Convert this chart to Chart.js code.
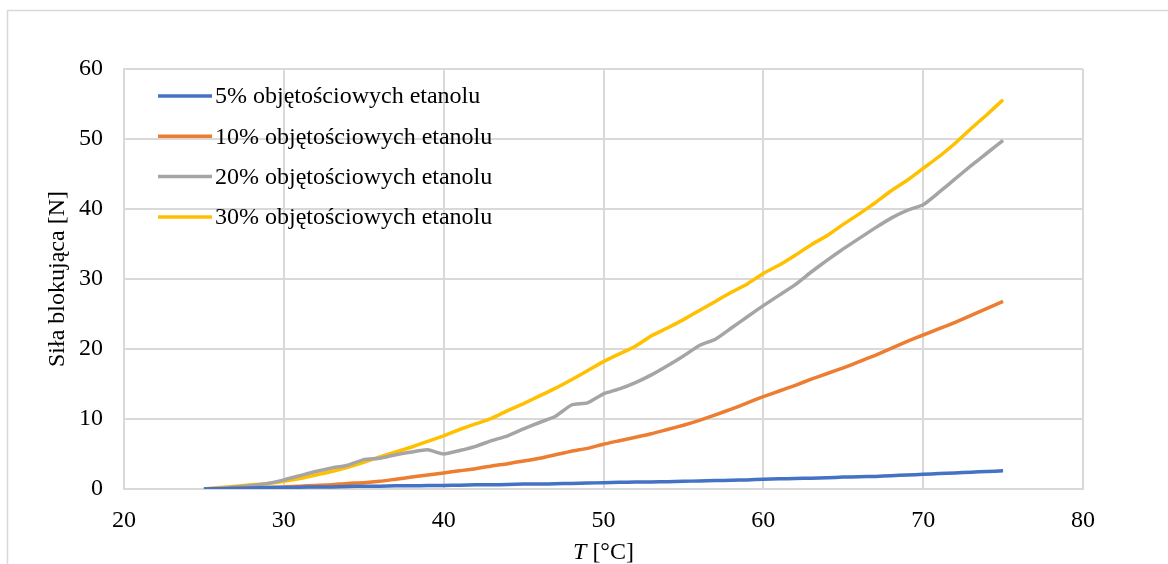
<!DOCTYPE html>
<html>
<head>
<meta charset="utf-8">
<script src="https://cdn.jsdelivr.net/npm/chart.js@4.4.1/dist/chart.umd.min.js"></script>
<style>
  html, body { margin: 0; padding: 0; background: #fff; }
  #wrap { width: 1168px; height: 564px; position: relative; }
</style>
</head>
<body>
<div id="wrap"><canvas id="c" width="1168" height="564"></canvas></div>
<script>
// Temperature [°C]
const temperature = [25,26,27,28,29,30,31,32,33,34,35,36,37,38,39,40,41,42,43,44,45,46,47,48,49,50,
  51,52,53,54,55,56,57,58,59,60,61,62,63,64,65,66,67,68,69,70,71,72,73,74,75];

// Blocking force [N] for each ethanol concentration
const force5 = [0.0,0.05,0.1,0.15,0.2,0.2,0.25,0.3,0.3,0.35,0.4,0.4,0.45,0.45,0.5,0.5,0.55,0.6,0.6,0.65,
  0.7,0.7,0.75,0.8,0.85,0.9,0.95,1.0,1.0,1.05,1.1,1.15,1.2,1.25,1.3,1.4,1.45,1.5,1.55,1.6,
  1.7,1.75,1.8,1.9,2.0,2.1,2.2,2.3,2.4,2.5,2.6];
const force10 = [0.0,0.0,0.1,0.1,0.2,0.3,0.4,0.5,0.6,0.8,0.9,1.1,1.4,1.7,2.0,2.3,2.6,2.9,3.3,3.6,
  4.0,4.4,4.9,5.4,5.8,6.4,6.9,7.4,7.9,8.5,9.1,9.8,10.6,11.4,12.3,13.2,14.0,14.8,15.7,16.5,
  17.3,18.2,19.1,20.1,21.1,22.0,22.9,23.8,24.8,25.8,26.8];
const force20 = [0.0,0.1,0.3,0.5,0.8,1.3,1.9,2.5,3.0,3.4,4.2,4.4,4.9,5.3,5.6,5.0,5.5,6.1,6.9,7.6,
  8.6,9.5,10.4,12.0,12.3,13.6,14.3,15.2,16.3,17.6,19.0,20.5,21.4,23.0,24.6,26.2,27.7,29.2,31.0,32.7,
  34.3,35.8,37.3,38.7,39.8,40.6,42.4,44.3,46.2,48.0,49.8];
const force30 = [0.0,0.2,0.4,0.6,0.8,1.1,1.5,2.0,2.5,3.1,3.8,4.6,5.3,6.0,6.8,7.6,8.5,9.3,10.1,11.2,
  12.2,13.3,14.4,15.6,16.9,18.2,19.3,20.4,21.9,23.0,24.2,25.5,26.8,28.1,29.3,30.8,32.0,33.4,34.9,36.2,
  37.8,39.3,40.9,42.6,44.1,45.8,47.5,49.4,51.5,53.5,55.6];

const seriesLabels = [
  '5% objętościowych etanolu',
  '10% objętościowych etanolu',
  '20% objętościowych etanolu',
  '30% objętościowych etanolu'
];
const seriesColors = ['#4472C4', '#ED7D31', '#A5A5A5', '#FFC000'];
const seriesValues = [force5, force10, force20, force30];

const xTicks = [20, 30, 40, 50, 60, 70, 80];
const yTicks = [0, 10, 20, 30, 40, 50, 60];

const FONT = '"Liberation Serif", "Times New Roman", serif';
const GRID = '#d9d9d9';

// outer chart frame
const framePlugin = {
  id: 'frame',
  beforeDraw(chart) {
    const ctx = chart.ctx;
    ctx.save();
    ctx.strokeStyle = GRID;
    ctx.lineWidth = 1.5;
    ctx.beginPath();
    ctx.moveTo(1175, 10.5);
    ctx.lineTo(7.5, 10.5);
    ctx.lineTo(7.5, 575);
    ctx.stroke();
    ctx.restore();
  }
};

// legend drawn inside the plot area, top left
const innerLegend = {
  id: 'innerLegend',
  afterDraw(chart) {
    const ctx = chart.ctx;
    ctx.save();
    ctx.font = '24px ' + FONT;
    ctx.textBaseline = 'middle';
    ctx.fillStyle = '#000';
    chart.data.datasets.forEach((ds, i) => {
      const y = 96 + i * 40.3;
      ctx.strokeStyle = ds.borderColor;
      ctx.lineWidth = 3.5;
      ctx.beginPath();
      ctx.moveTo(158, y);
      ctx.lineTo(212, y);
      ctx.stroke();
      ctx.fillText(ds.label, 215, y + 1);
    });
    ctx.restore();
  }
};

// axis titles (x title has an italic symbol)
const axisTitles = {
  id: 'axisTitles',
  afterDraw(chart) {
    const ctx = chart.ctx;
    const a = chart.chartArea;
    ctx.save();
    ctx.fillStyle = '#000';
    ctx.textBaseline = 'middle';
    ctx.font = 'italic 24px ' + FONT;
    const t1 = 'T';
    const t2 = ' [°C]';
    const w1 = ctx.measureText(t1).width;
    ctx.font = '24px ' + FONT;
    const w2 = ctx.measureText(t2).width;
    const cx = (a.left + a.right) / 2;
    const x0 = cx - (w1 + w2) / 2;
    ctx.font = 'italic 24px ' + FONT;
    ctx.fillText(t1, x0, 553);
    ctx.font = '24px ' + FONT;
    ctx.fillText(t2, x0 + w1, 553);

    ctx.translate(58, (a.top + a.bottom) / 2);
    ctx.rotate(-Math.PI / 2);
    ctx.textAlign = 'center';
    ctx.fillText('Siła blokująca [N]', 0, 0);
    ctx.restore();
  }
};

new Chart(document.getElementById('c'), {
  type: 'line',
  data: {
    datasets: seriesValues.map((vals, i) => ({
      label: seriesLabels[i],
      data: temperature.map((t, j) => ({ x: t, y: vals[j] })),
      borderColor: seriesColors[i],
      backgroundColor: seriesColors[i],
      borderWidth: 3.5,
      pointRadius: 0,
      tension: 0.15,
      fill: false
    }))
  },
  options: {
    responsive: false,
    animation: false,
    layout: { padding: { left: 0, top: 69, right: 85, bottom: 0 } },
    plugins: {
      legend: { display: false },
      tooltip: { enabled: false }
    },
    scales: {
      x: {
        type: 'linear',
        min: 20, max: 80,
        afterBuildTicks(scale) { scale.ticks = xTicks.map(v => ({ value: v })); },
        afterFit(scale) { scale.height = 75; },
        grid: { color: GRID, lineWidth: 2, drawTicks: false },
        border: { color: GRID, width: 2 },
        ticks: { font: { family: FONT, size: 24 }, color: '#000', padding: 17, maxRotation: 0 },
        title: { display: false }
      },
      y: {
        min: 0, max: 60,
        afterBuildTicks(scale) { scale.ticks = yTicks.map(v => ({ value: v })); },
        afterFit(scale) { scale.width = 124; },
        grid: { color: GRID, lineWidth: 2, drawTicks: false },
        border: { color: GRID, width: 2 },
        ticks: { font: { family: FONT, size: 24 }, color: '#000', padding: 21 },
        title: { display: false }
      }
    }
  },
  plugins: [framePlugin, innerLegend, axisTitles]
});
</script>
</body>
</html>
